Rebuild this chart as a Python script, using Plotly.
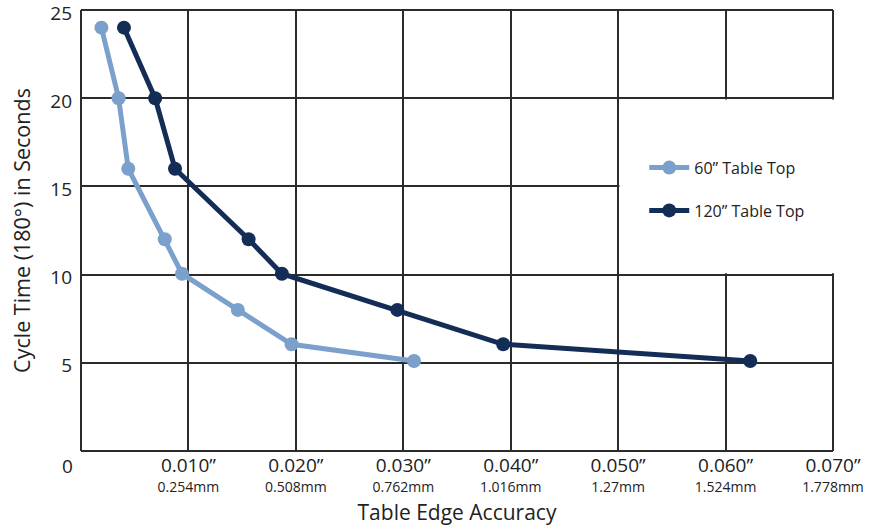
import plotly.graph_objects as go

# accuracy in inches (x) vs cycle time in seconds (y)
accuracy_60 = [0.0019, 0.0035, 0.0044, 0.0078, 0.0094, 0.0146, 0.0196, 0.0310]
cycle_60 = [24, 20, 16, 12, 10.05, 8, 6.05, 5.1]

accuracy_120 = [0.0040, 0.0069, 0.00875, 0.0156, 0.0187, 0.02945, 0.0393, 0.0623]
cycle_120 = [24, 20, 16, 12, 10.05, 8, 6.05, 5.1]

x_ticks = [0.01, 0.02, 0.03, 0.04, 0.05, 0.06, 0.07]
x_inch_labels = ["0.010”", "0.020”", "0.030”", "0.040”", "0.050”", "0.060”", "0.070”"]
x_mm_labels = ["0.254mm", "0.508mm", "0.762mm", "1.016mm", "1.27mm", "1.524mm", "1.778mm"]
y_ticks = [5, 10, 15, 20, 25]

LIGHT = "#7ba0cb"
DARK = "#132d56"
GRID = "#2b2b2b"
TEXT = "#222222"
FONT = "Open Sans"

fig = go.Figure()

fig.add_trace(go.Scatter(
    x=accuracy_60, y=cycle_60, mode="lines+markers", name="60” Table Top",
    legendgroup="a",
    line=dict(color=LIGHT, width=5), marker=dict(color=LIGHT, size=14),
))
fig.add_trace(go.Scatter(
    x=accuracy_120, y=cycle_120, mode="lines+markers", name="120” Table Top",
    legendgroup="b",
    line=dict(color=DARK, width=5), marker=dict(color=DARK, size=14),
))

ticktext = [f"<span style='font-size:19px'>{a}</span><br><span style='font-size:14px'>{m}</span>"
            for a, m in zip(x_inch_labels, x_mm_labels)]

fig.update_xaxes(
    range=[0, 0.07], tickvals=x_ticks, ticktext=ticktext, automargin=False,
    showgrid=True, gridcolor=GRID, gridwidth=2, zeroline=False, showline=False,
    ticks="", ticklabelstandoff=5, ticklabeloverflow="allow",
    tickfont=dict(size=15, color=TEXT, family=FONT),
    title=dict(text="Table Edge Accuracy", font=dict(size=21, color=TEXT, family=FONT), standoff=10),
)
fig.update_yaxes(
    range=[0, 25], tickvals=y_ticks, automargin=False,
    showgrid=True, gridcolor=GRID, gridwidth=2, zeroline=False, showline=False,
    ticks="", ticklabelstandoff=8, ticklabelshift=3, ticklabeloverflow="allow",
    tickfont=dict(size=19, color=TEXT, family=FONT),
    title=dict(text="Cycle Time (180°) in Seconds", font=dict(size=21.5, color=TEXT, family=FONT), standoff=13),
)

# white box behind the legend hides part of the grid
fig.add_shape(type="rect", xref="paper", yref="y", x0=0.05012 / 0.07, x1=1.02, y0=10.07, y1=19.93,
              fillcolor="white", line=dict(width=0), layer="above")

# plot frame (right side interrupted by the legend box)
frame = dict(color=GRID, width=2)
fig.add_shape(type="line", xref="paper", yref="paper", x0=0, x1=1, y0=1, y1=1, line=frame, layer="above")
fig.add_shape(type="line", xref="paper", yref="paper", x0=0, x1=1, y0=0, y1=0, line=frame, layer="above")
fig.add_shape(type="line", xref="paper", yref="paper", x0=0, x1=0, y0=0, y1=1, line=frame, layer="above")
fig.add_shape(type="line", xref="paper", yref="y", x0=1, x1=1, y0=0, y1=10.07, line=frame, layer="above")
fig.add_shape(type="line", xref="paper", yref="y", x0=1, x1=1, y0=19.93, y1=25, line=frame, layer="above")

fig.add_annotation(text="0", xref="paper", yref="paper", x=-0.0173, y=-0.034,
                   xanchor="center", yanchor="middle",
                   showarrow=False, font=dict(size=19, color=TEXT, family=FONT))

fig.update_layout(
    width=872, height=526,
    margin=dict(l=81, r=39, t=10, b=75),
    plot_bgcolor="white", paper_bgcolor="white",
    font=dict(family=FONT, color=TEXT),
    legend=dict(x=0.749, y=0.681, xanchor="left", yanchor="top", bgcolor="rgba(0,0,0,0)",
                font=dict(size=16, color=TEXT, family=FONT), tracegroupgap=19, itemwidth=40),
    showlegend=True,
)

fig.write_html("out.html", config={"displayModeBar": False},
               post_script="document.body.style.margin='0';")
